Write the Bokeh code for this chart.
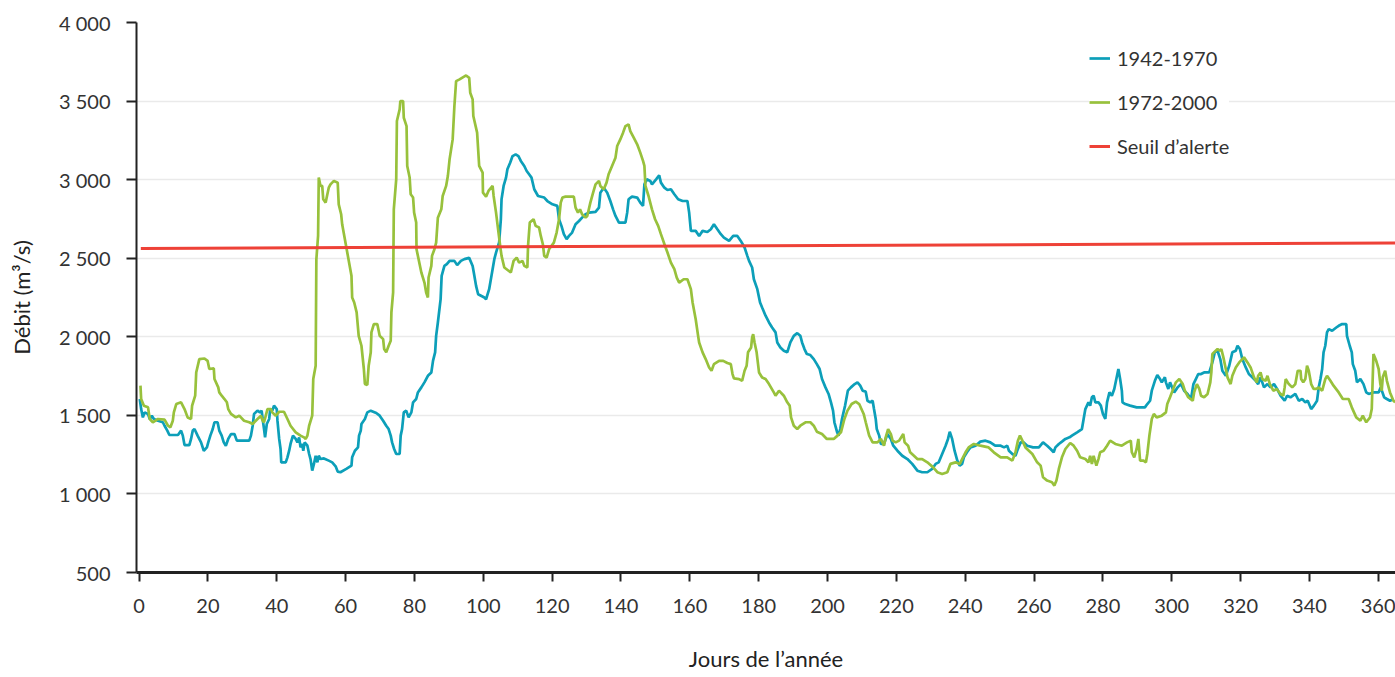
from bokeh.plotting import figure
from bokeh.models import Range1d, FixedTicker, Legend, LegendItem
from bokeh.embed import file_html
from bokeh.resources import INLINE

# ---- data ----
blue_days = [0.2,0.6,1.1,1.6,2.6,3.1,3.7,4.3,5.5,6.9,7.4,8.2,8.8,11.3,12.2,12.7,13.2,14.6,15.1,15.6,16.1,17.0,18.0,18.8,19.7,20.1,20.7,21.4,21.9,22.8,23.3,24.0,24.6,25.2,25.9,26.7,27.7,28.4,32.0,32.5,33.0,33.4,34.4,35.1,35.6,35.9,36.3,36.6,37.1,37.8,38.1,38.7,39.2,40.0,40.2,40.7,41.1,41.3,42.6,43.1,43.6,44.0,44.7,45.5,46.0,46.5,46.9,47.4,47.7,48.1,48.9,49.4,49.8,50.3,50.8,51.3,51.8,52.2,52.7,53.7,55.1,56.1,57.1,57.7,58.5,
             60.2,61.7,61.9,62.7,63.6,63.9,64.4,64.6,65.6,66.3,67.3,68.9,69.9,70.9,71.8,72.5,73.1,73.5,74.1,74.7,75.7,76.0,76.4,76.9,77.6,78.3,79.1,79.6,80.5,81.0,82.0,82.9,83.9,84.9,85.4,86.0,86.3,86.8,87.6,87.9,88.7,89.4,90.2,91.6,92.4,93.5,94.5,95.9,96.9,97.4,97.9,98.5,100.3,100.8,101.7,102.2,102.7,103.2,103.7,104.6,105.1,105.3,105.9,106.6,107.0,107.8,108.5,109.4,110.2,110.9,111.9,112.6,113.3,114.0,114.8,115.9,117.7,118.6,120.1,121.5,122.0,122.7,123.4,124.2,124.9,125.8,126.8,127.8,128.7,129.7,130.7,132.6,133.6,134.0,135.0,136.0,136.9,137.7,138.4,139.4,141.3,141.8,142.2,143.2,144.7,145.6,146.4,146.8,147.5,148.5,149.0,
             150.2,151.1,151.6,152.6,153.5,154.5,155.5,156.6,157.9,159.3,159.8,160.3,161.7,162.7,163.7,165.1,166.1,167.0,168.0,169.0,169.9,171.4,172.6,173.8,174.8,175.9,176.7,177.2,178.1,178.6,179.6,180.4,181.0,182.0,183.0,183.9,184.9,185.4,186.3,187.3,188.3,189.2,190.2,191.2,192.1,192.6,193.3,194.0,195.0,196.0,196.9,197.7,198.4,199.4,200.3,201.0,201.6,202.0,202.8,203.2,203.7,204.2,
             205.1,205.9,206.8,207.9,208.7,209.5,210.2,211.1,211.6,212.4,213.1,213.5,214.0,214.3,215.0,215.5,216.4,217.4,218.4,219.1,220.3,221.7,223.2,224.6,226.1,227.5,229.0,230.4,231.4,232.3,233.3,234.3,235.0,235.5,236.2,236.9,237.7,238.4,239.1,239.6,240.5,241.5,243.0,244.4,245.9,247.3,248.7,250.3,251.3,252.2,252.7,253.7,254.6,255.1,256.1,257.0,258.0,259.7,261.4,262.6,263.8,264.8,265.7,266.2,267.2,268.1,269.1,
             270.3,271.0,272.5,273.9,274.4,274.9,275.8,276.3,276.8,277.3,277.8,278.7,279.4,280.0,280.7,281.2,281.9,282.6,283.3,283.9,284.5,285.0,285.5,285.7,286.5,287.9,289.8,292.2,292.9,293.7,294.2,295.1,295.8,296.6,297.1,298.0,298.3,299.0,299.5,
             300.7,301.7,302.7,303.6,304.6,305.6,306.3,307.0,307.7,308.5,309.4,310.9,311.8,312.5,313.3,314.1,314.7,315.7,316.7,317.6,318.6,319.1,319.8,320.5,321.5,322.4,323.4,324.4,325.1,325.8,326.8,327.8,328.7,329.7,330.6,331.6,332.8,333.5,334.5,335.9,336.9,337.9,338.8,339.5,340.5,341.3,342.2,342.7,343.2,343.7,344.1,344.6,345.1,345.6,346.6,347.8,348.5,349.5,350.7,350.9,351.7,352.3,352.6,353.3,353.8,354.8,355.7,356.5,357.2,358.6,360.1,360.7,361.7,362.5,363.4,364.4]
blue_flow = [1604,1540,1487,1519,1509,1477,1498,1477,1466,1456,1434,1403,1375,1375,1403,1371,1311,1311,1350,1403,1413,1371,1328,1275,1296,1328,1371,1413,1456,1456,1403,1371,1328,1307,1350,1381,1381,1339,1339,1371,1434,1509,1530,1519,1530,1477,1413,1360,1445,1477,1540,1530,1562,1540,1466,1350,1286,1201,1201,1233,1275,1318,1371,1350,1328,1360,1296,1318,1275,1328,1307,1254,1222,1148,1191,1243,1201,1243,1222,1226,1212,1201,1176,1142,1138,
             1159,1180,1233,1275,1296,1371,1403,1445,1477,1519,1530,1515,1498,1466,1434,1413,1371,1328,1286,1254,1254,1371,1413,1519,1530,1487,1519,1583,1604,1646,1678,1710,1752,1773,1848,1901,2006,2091,2240,2388,2451,2462,2483,2483,2456,2483,2494,2502,2451,2388,2324,2271,2250,2239,2303,2366,2430,2494,2536,2600,2748,2875,2960,3013,3066,3108,3150,3161,3150,3119,3087,3055,3034,3013,2939,2896,2886,2864,2843,2833,2748,2706,2653,2621,2642,2663,2716,2737,2758,2780,2790,2795,2822,2917,2949,2917,2864,2811,2769,2727,2727,2790,2875,2892,2886,2854,2833,2970,3002,2992,2970,
             3002,3028,2981,2949,2934,2939,2907,2875,2864,2864,2790,2674,2674,2642,2674,2667,2684,2716,2684,2653,2631,2610,2642,2642,2610,2568,2515,2483,2441,2366,2303,2218,2186,2134,2091,2059,2028,1964,1932,1911,1901,1964,2006,2023,2006,1964,1922,1890,1884,1858,1826,1795,1731,1678,1636,1583,1530,1456,1392,1371,1413,1477,
             1562,1657,1678,1699,1710,1689,1657,1651,1593,1583,1593,1540,1477,1413,1371,1318,1318,1381,1350,1307,1275,1243,1222,1191,1148,1138,1138,1159,1191,1201,1254,1307,1350,1396,1350,1275,1212,1180,1191,1233,1265,1296,1307,1333,1339,1328,1307,1307,1296,1307,1275,1254,1243,1275,1328,1328,1307,1296,1296,1328,1307,1286,1265,1296,1318,1333,1350,
             1360,1371,1392,1413,1477,1540,1583,1562,1615,1625,1583,1583,1562,1509,1477,1583,1646,1625,1668,1731,1795,1731,1657,1583,1572,1562,1551,1551,1572,1593,1657,1720,1756,1731,1710,1742,1710,1668,1710,
             1646,1678,1699,1657,1636,1604,1699,1731,1763,1763,1773,1773,1837,1901,1911,1858,1784,1752,1816,1901,1911,1943,1922,1858,1805,1763,1742,1720,1699,1742,1678,1699,1678,1699,1668,1625,1593,1625,1615,1636,1593,1604,1583,1593,1540,1562,1593,1678,1731,1795,1901,1943,2028,2049,2038,2059,2070,2081,2081,2006,1943,1901,1826,1784,1710,1731,1699,1646,1636,1646,1646,1678,1615,1604,1593,1604]

green_days = [0.4,0.6,1.4,2.6,3.1,4.0,5.5,7.4,8.4,9.1,9.8,10.1,10.8,12.2,13.2,14.1,15.1,15.4,16.3,16.6,17.5,19.0,19.9,20.4,21.7,21.9,23.0,23.3,24.0,24.8,25.5,25.9,26.7,28.1,29.1,30.5,32.0,33.0,34.4,35.4,35.9,36.3,37.3,38.3,38.7,39.7,40.7,42.1,43.1,44.0,45.5,46.9,47.9,48.4,48.9,49.4,50.3,50.6,51.3,51.5,52.0,52.2,52.7,53.2,53.5,54.2,54.7,55.1,55.6,56.6,57.7,58.0,58.7,59.0,
              61.7,61.9,62.5,63.2,63.8,64.6,65.3,65.6,66.3,66.7,67.3,67.5,68.2,69.2,69.9,70.9,71.2,71.8,72.5,73.1,73.3,73.8,74.0,74.7,74.9,75.7,75.9,76.7,76.9,77.7,77.9,78.6,78.9,79.6,79.9,80.5,80.6,82.0,82.9,83.4,83.9,84.1,84.9,85.1,85.8,86.3,86.8,87.8,88.2,89.2,89.7,90.2,91.1,91.6,92.1,93.1,95.0,95.9,96.2,96.9,97.1,98.2,98.8,99.8,99.9,100.8,101.5,102.7,103.0,103.7,104.3,104.9,105.3,106.1,108.0,108.8,109.7,110.4,111.4,111.9,112.8,113.0,113.5,114.6,115.2,116.2,116.7,117.3,117.7,118.4,119.1,120.5,121.3,122.0,122.5,123.0,123.9,126.3,126.8,127.5,128.1,128.7,129.7,130.2,131.1,131.9,132.6,133.6,134.0,135.0,135.8,136.4,137.4,138.4,138.9,139.8,140.6,141.3,142.2,142.7,143.7,144.7,145.6,146.4,146.8,147.1,148.0,149.0,
              149.9,150.8,151.6,152.8,153.5,154.5,155.5,156.2,156.9,158.2,159.3,160.3,160.8,161.7,162.4,162.7,163.7,164.6,165.6,166.3,167.0,168.5,169.7,170.9,171.9,172.4,172.8,174.3,175.2,175.9,176.5,176.9,177.8,178.1,178.4,178.8,179.4,180.1,181.0,182.0,183.0,184.4,184.9,185.9,187.3,188.3,189.0,189.4,190.2,191.2,192.1,193.6,195.0,196.0,196.9,198.4,199.8,201.8,202.9,203.9,204.9,205.8,207.0,208.2,209.2,210.5,211.1,212.1,213.1,214.5,215.5,216.4,216.9,217.6,218.4,218.9,219.8,220.8,222.0,222.4,223.4,224.0,225.1,226.1,227.5,229.0,230.7,231.9,233.3,234.8,235.7,237.2,238.4,239.1,240.1,241.0,242.5,244.4,246.8,248.3,250.3,252.2,253.7,254.6,255.3,255.9,256.6,257.5,259.5,260.9,261.9,262.6,263.8,265.2,265.9,266.5,267.2,268.1,269.1,
              270.5,271.5,272.5,273.4,274.9,275.8,276.3,276.8,277.3,278.1,278.7,279.2,280.2,281.2,282.1,283.6,285.5,287.0,288.1,288.4,289.1,289.8,290.3,290.8,291.8,292.5,292.9,293.5,294.2,294.8,295.6,297.1,298.3,298.7,299.5,
              300.6,301.2,302.2,303.2,303.8,304.8,306.1,306.5,307.3,308.0,308.5,309.4,310.4,311.2,311.5,311.8,313.3,314.1,314.4,315.0,315.7,316.2,317.1,317.6,318.6,319.6,321.0,322.0,322.9,323.9,324.7,325.1,325.8,326.3,327.3,327.8,328.5,329.5,330.5,331.6,332.4,332.8,333.1,334.0,335.0,335.9,336.6,337.4,337.6,338.2,338.8,339.3,339.8,340.5,341.2,342.0,342.7,343.7,344.6,345.1,346.1,347.0,348.5,349.7,351.4,352.3,353.6,354.8,355.5,356.5,357.6,358.1,358.6,359.4,360.1,360.6,361.0,361.3,362.0,362.5,363.4,364.4,364.9]
green_flow = [1689,1604,1561,1551,1477,1456,1477,1473,1434,1424,1466,1519,1572,1583,1540,1487,1477,1561,1625,1773,1858,1862,1847,1795,1799,1731,1678,1646,1625,1604,1583,1540,1509,1487,1498,1466,1456,1445,1477,1498,1466,1456,1540,1540,1519,1498,1523,1523,1477,1434,1392,1371,1360,1350,1371,1434,1498,1731,1816,2492,2642,3013,2960,2960,2875,2854,2907,2949,2970,2992,2981,2843,2780,2716,
              2388,2250,2218,2155,2006,1943,1795,1700,1693,1816,1901,2028,2081,2081,2006,1985,1922,1901,1943,1975,2155,2282,2811,3002,3373,3447,3500,3500,3394,3341,3087,3013,2907,2886,2790,2727,2557,2409,2345,2282,2250,2377,2451,2515,2557,2599,2758,2811,2896,2960,3023,3129,3256,3468,3627,3638,3663,3648,3553,3511,3405,3299,3087,3045,2917,2892,2928,2960,2896,2790,2684,2578,2515,2441,2409,2483,2504,2472,2483,2451,2441,2578,2727,2748,2706,2695,2642,2589,2515,2504,2557,2599,2663,2748,2854,2886,2892,2892,2822,2790,2811,2780,2758,2769,2854,2917,2970,2992,2960,2939,2981,3034,3087,3140,3214,3256,3299,3341,3352,3309,3267,3225,3172,3119,3087,2960,2896,2811,
              2748,2706,2653,2578,2536,2472,2430,2377,2345,2366,2366,2303,2218,2112,2006,1964,1901,1858,1805,1784,1826,1847,1847,1833,1826,1763,1735,1731,1720,1784,1816,1901,1932,1996,2017,1964,1901,1773,1741,1731,1699,1646,1625,1657,1625,1583,1562,1487,1434,1413,1434,1456,1456,1434,1396,1381,1350,1350,1371,1392,1477,1530,1572,1587,1572,1509,1456,1371,1328,1328,1350,1307,1360,1413,1381,1339,1328,1339,1381,1328,1307,1265,1243,1222,1222,1201,1169,1138,1127,1138,1191,1201,1191,1222,1265,1296,1318,1307,1296,1265,1233,1233,1212,1265,1339,1371,1339,1296,1254,1201,1180,1106,1085,1074,1053,1085,1159,1233,1286,
              1324,1307,1275,1233,1222,1201,1243,1191,1243,1180,1222,1265,1275,1307,1339,1318,1307,1328,1339,1265,1233,1286,1350,1212,1212,1201,1254,1371,1477,1509,1487,1498,1519,1572,1615,
              1678,1710,1731,1699,1657,1615,1593,1646,1699,1668,1625,1615,1636,1710,1773,1890,1922,1911,1922,1869,1795,1742,1699,1752,1805,1837,1869,1837,1805,1742,1710,1752,1773,1731,1720,1752,1699,1657,1668,1636,1625,1678,1731,1699,1678,1699,1784,1784,1731,1710,1731,1816,1784,1699,1668,1668,1678,1657,1731,1752,1720,1689,1646,1604,1604,1551,1487,1466,1498,1456,1487,1540,1890,1847,1795,1699,1657,1742,1784,1720,1646,1593,1583]

threshold_days = [0.5, 365]
threshold_flow = [2562, 2597]

x_ticks = list(range(0, 361, 20))
y_ticks = list(range(500, 4001, 500))
y_tick_labels = {v: f"{v:,}".replace(",", " ") for v in y_ticks}

series_labels = ["1942-1970", "1972-2000", "Seuil d\u2019alerte"]
colors = ["#0C9FB9", "#98C13C", "#EE4137"]

FONT = "Lato"
TXT = "#333333"

p = figure(width=1395, height=677, output_backend="svg", toolbar_location=None,
           x_range=Range1d(-0.75, 365), y_range=Range1d(500, 4000),
           min_border_left=136, min_border_right=0, min_border_top=22, min_border_bottom=105)
p.outline_line_color = None
p.background_fill_color = "white"
p.border_fill_color = "white"

r1 = p.line(blue_days, blue_flow, line_color=colors[0], line_width=2.7)
r2 = p.line(green_days, green_flow, line_color=colors[1], line_width=2.7)
r3 = p.line(threshold_days, threshold_flow, line_color=colors[2], line_width=3)

# grid
p.xgrid.grid_line_color = None
p.ygrid.grid_line_color = "#EAEAEA"
p.ygrid.grid_line_width = 1.5
p.ygrid.ticker = FixedTicker(ticks=y_ticks)

# x axis
xa = p.xaxis[0]
xa.ticker = FixedTicker(ticks=x_ticks)
xa.axis_line_color = "#222222"
xa.axis_line_width = 3
xa.major_tick_line_color = "#222222"
xa.major_tick_line_width = 2
xa.major_tick_out = 9
xa.major_tick_in = 0
xa.minor_tick_line_color = None
xa.major_label_standoff = 17
xa.major_label_text_font = FONT
xa.major_label_text_font_size = "20px"
xa.major_label_text_color = TXT
xa.axis_label = "Jours de l\u2019ann\u00e9e"
xa.axis_label_text_font = FONT
xa.axis_label_text_font_size = "22px"
xa.axis_label_text_font_style = "normal"
xa.axis_label_text_color = "#222222"
xa.axis_label_standoff = 29

# y axis
ya = p.yaxis[0]
ya.ticker = FixedTicker(ticks=y_ticks)
ya.major_label_overrides = y_tick_labels
ya.axis_line_color = "#222222"
ya.axis_line_width = 2
ya.major_tick_line_color = "#222222"
ya.major_tick_line_width = 2
ya.major_tick_out = 10
ya.major_tick_in = 0
ya.minor_tick_line_color = None
ya.major_label_standoff = 16
ya.major_label_text_font = FONT
ya.major_label_text_font_size = "20px"
ya.major_label_text_color = TXT
ya.axis_label = "D\u00e9bit (m\u00b3/s)"
ya.axis_label_text_font = FONT
ya.axis_label_text_font_size = "22px"
ya.axis_label_text_font_style = "normal"
ya.axis_label_text_color = "#222222"
ya.axis_label_standoff = 21

legend = Legend(items=[LegendItem(label=series_labels[0], renderers=[r1]),
                       LegendItem(label=series_labels[1], renderers=[r2]),
                       LegendItem(label=series_labels[2], renderers=[r3])],
                location=(953, 414), orientation="vertical",
                border_line_color=None, background_fill_color="white", background_fill_alpha=1.0,
                label_text_font=FONT, label_text_font_size="20px", label_text_color=TXT,
                glyph_width=21, glyph_height=20, label_height=20, spacing=20,
                padding=12, label_standoff=7, margin=0)
p.add_layout(legend)

open("out.html", "w").write(file_html(p, INLINE))
